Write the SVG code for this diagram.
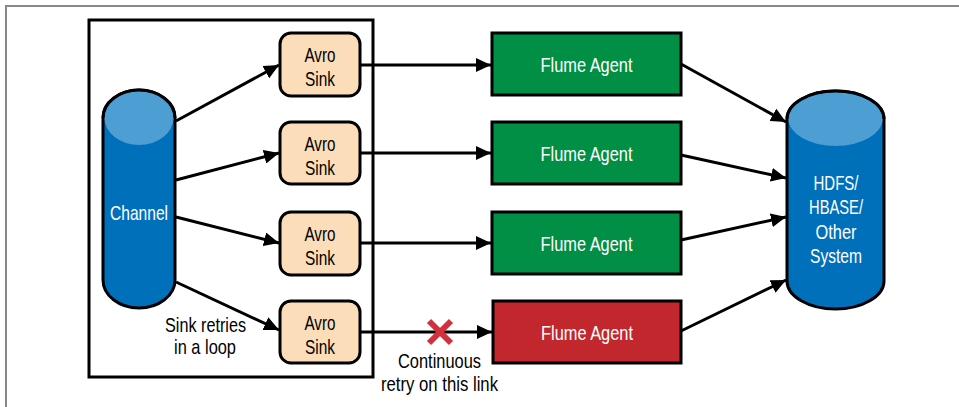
<svg xmlns="http://www.w3.org/2000/svg" width="959" height="407" viewBox="0 0 959 407">
<defs>
<marker id="ah" markerUnits="userSpaceOnUse" markerWidth="16" markerHeight="14" refX="15" refY="7" orient="auto">
<path d="M0,0 L15,7 L0,14 Z" fill="#000"/>
</marker>
</defs>
<style>
.t{font-family:"Liberation Sans",Arial,sans-serif;font-size:21px;text-anchor:middle}
.w{fill:#fff}
.k{fill:#000}
.sink{fill:#FBDDB9;stroke:#000;stroke-width:3}
.ag{fill:#008F45;stroke:#000;stroke-width:3}
.bad{fill:#C1272D;stroke:#000;stroke-width:3}
.cyl{fill:#0070BA;stroke:#000;stroke-width:3}
.top{fill:#4C9ED3}
.c line{stroke:#000;stroke-width:3;marker-end:url(#ah)}
</style>
<rect width="959" height="407" fill="#fff"/>
<path d="M6,407 V6 H959" fill="none" stroke="#888" stroke-width="2"/>
<rect x="89" y="20" width="284" height="357" fill="none" stroke="#000" stroke-width="3"/>

<g id="channel">
<path class="cyl" d="M103,118 A36,28 0 0 1 175,118 V280 A36,28 0 0 1 103,280 Z"/>
<path class="top" d="M104.5,118 A34.5,27 0 0 1 173.5,118 A34.5,27 0 0 1 104.5,118 Z"/>
<path d="M103,118 A36,28 0 0 1 175,118" fill="none" stroke="#000" stroke-width="3"/>
<text class="t w" x="139" y="220" textLength="58" lengthAdjust="spacingAndGlyphs">Channel</text>
</g>

<g id="sink1"><rect class="sink" x="280" y="33" width="80" height="63" rx="11"/>
<text class="t k" x="320" y="62" textLength="31" lengthAdjust="spacingAndGlyphs">Avro</text>
<text class="t k" x="320" y="86" textLength="30" lengthAdjust="spacingAndGlyphs">Sink</text></g>
<g id="sink2"><rect class="sink" x="280" y="122" width="80" height="62" rx="11"/>
<text class="t k" x="320" y="151" textLength="31" lengthAdjust="spacingAndGlyphs">Avro</text>
<text class="t k" x="320" y="175" textLength="30" lengthAdjust="spacingAndGlyphs">Sink</text></g>
<g id="sink3"><rect class="sink" x="280" y="212" width="80" height="63" rx="11"/>
<text class="t k" x="320" y="241" textLength="31" lengthAdjust="spacingAndGlyphs">Avro</text>
<text class="t k" x="320" y="265" textLength="30" lengthAdjust="spacingAndGlyphs">Sink</text></g>
<g id="sink4"><rect class="sink" x="280" y="301" width="80" height="62" rx="11"/>
<text class="t k" x="320" y="330" textLength="31" lengthAdjust="spacingAndGlyphs">Avro</text>
<text class="t k" x="320" y="354" textLength="30" lengthAdjust="spacingAndGlyphs">Sink</text></g>

<g id="agent1"><rect class="ag" x="492" y="33" width="189" height="62"/>
<text class="t w" x="586.5" y="72" textLength="92" lengthAdjust="spacingAndGlyphs">Flume Agent</text></g>
<g id="agent2"><rect class="ag" x="492" y="122" width="189" height="62"/>
<text class="t w" x="586.5" y="161" textLength="92" lengthAdjust="spacingAndGlyphs">Flume Agent</text></g>
<g id="agent3"><rect class="ag" x="492" y="212" width="189" height="62"/>
<text class="t w" x="586.5" y="251" textLength="92" lengthAdjust="spacingAndGlyphs">Flume Agent</text></g>
<g id="agent4"><rect class="bad" x="493" y="301" width="188" height="62"/>
<text class="t w" x="587" y="340" textLength="92" lengthAdjust="spacingAndGlyphs">Flume Agent</text></g>

<g id="hdfs">
<path class="cyl" d="M787,119 A48.5,28 0 0 1 884,119 V281 A48.5,28 0 0 1 787,281 Z"/>
<path class="top" d="M788.5,119 A47,27 0 0 1 882.5,119 A47,27 0 0 1 788.5,119 Z"/>
<path d="M787,119 A48.5,28 0 0 1 884,119" fill="none" stroke="#000" stroke-width="3"/>
<text class="t w" x="836" y="190" textLength="45" lengthAdjust="spacingAndGlyphs">HDFS/</text>
<text class="t w" x="836" y="214" textLength="54" lengthAdjust="spacingAndGlyphs">HBASE/</text>
<text class="t w" x="836" y="239" textLength="41" lengthAdjust="spacingAndGlyphs">Other</text>
<text class="t w" x="836" y="263" textLength="52" lengthAdjust="spacingAndGlyphs">System</text>
</g>

<g id="connectors" class="c">
<line x1="176" y1="121" x2="279" y2="65"/>
<line x1="176" y1="180" x2="279" y2="153"/>
<line x1="176" y1="217" x2="279" y2="243"/>
<line x1="176" y1="282" x2="279" y2="330"/>
<line x1="361" y1="65" x2="491" y2="65"/>
<line x1="361" y1="153" x2="491" y2="153"/>
<line x1="361" y1="243" x2="491" y2="243"/>
<line x1="361" y1="332" x2="492" y2="332"/>
<line x1="681" y1="64" x2="786" y2="122"/>
<line x1="681" y1="155" x2="786" y2="178"/>
<line x1="681" y1="240" x2="786" y2="217"/>
<line x1="681" y1="331" x2="786" y2="280"/>
</g>

<g id="fail">
<path d="M429,321 L451,343 M451,321 L429,343" stroke="#D0313D" stroke-width="6"/>
</g>
<g id="labels">
<text class="t k" x="205.5" y="332" textLength="81" lengthAdjust="spacingAndGlyphs">Sink retries</text>
<text class="t k" x="205" y="354" textLength="62" lengthAdjust="spacingAndGlyphs">in a loop</text>
<text class="t k" x="439.5" y="368" textLength="83" lengthAdjust="spacingAndGlyphs">Continuous</text>
<text class="t k" x="439.5" y="391" textLength="117" lengthAdjust="spacingAndGlyphs">retry on this link</text>
</g>
</svg>
